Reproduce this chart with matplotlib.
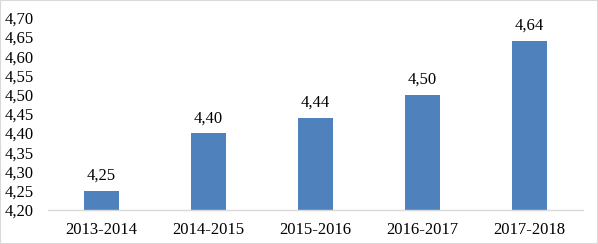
import numpy as np
import matplotlib.pyplot as plt
from matplotlib.patches import Rectangle

seasons = ['2013-2014', '2014-2015', '2015-2016', '2016-2017', '2017-2018']
values = [4.25, 4.40, 4.44, 4.50, 4.64]
y_ticks = [4.20, 4.25, 4.30, 4.35, 4.40, 4.45, 4.50, 4.55, 4.60, 4.65, 4.70]

plt.rcParams['font.family'] = ['Liberation Serif', 'DejaVu Serif']

fig = plt.figure(figsize=(5.98, 2.44), dpi=100)
ax = fig.add_axes([48 / 598, 34 / 244, 535 / 598, 192.3 / 244])

x = np.arange(len(seasons))
bars = ax.bar(x, values, width=0.32, color='#4F81BD', bottom=0)
for xi, v in zip(x, values):
    ax.text(xi, v + 0.018, f'{v:.2f}'.replace('.', ','), ha='center', va='bottom', fontsize=12)

ax.set_xlim(-0.5, len(seasons) - 0.5)
ax.set_ylim(4.20, 4.70)
ax.set_yticks(y_ticks)
ax.set_yticklabels([f'{t:.2f}'.replace('.', ',') for t in y_ticks], fontsize=12)
ax.set_xticks(x)
ax.set_xticklabels(seasons, fontsize=12)
ax.tick_params(axis='y', length=0, pad=10)
ax.tick_params(axis='x', length=0, pad=9)

for s in ['top', 'right', 'left']:
    ax.spines[s].set_visible(False)
ax.spines['bottom'].set_color('#D9D9D9')
ax.spines['bottom'].set_linewidth(1)

fig.patches.append(Rectangle((0, 0), 1, 1, transform=fig.transFigure, fill=False,
                             edgecolor='#D9D9D9', linewidth=1.5))

fig.savefig('out.png', dpi=100)
